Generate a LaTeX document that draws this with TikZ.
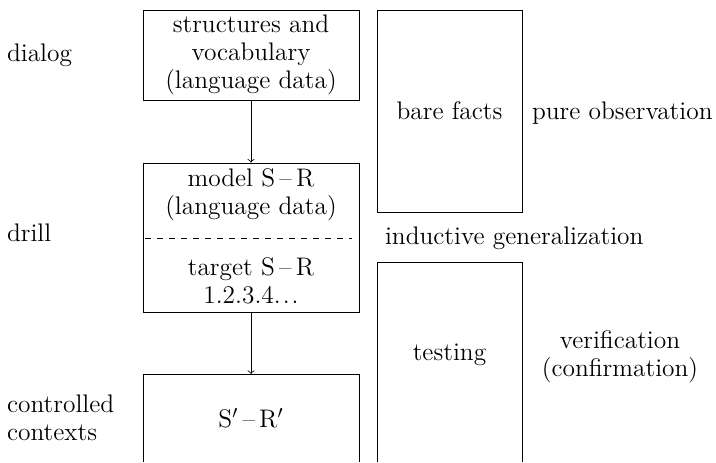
\documentclass[tikz,border=0pt]{standalone}
\usetikzlibrary{positioning}
\begin{document}
\begin{tikzpicture}[x=0.5pt, y=-0.5pt, every node/.style={font=\fontsize{12.7}{13.9}\selectfont}]
	\tikzset{
		box/.style={draw, thin, inner sep=0pt, align=center},
		lbl/.style={right, align=left},
	}
	\useasboundingbox (0,0) rectangle (716,462);
	
	% --- 左列：方法步骤 ---
	\node[box, minimum width=108pt, minimum height=45pt] (s1) at (251,55) {structures and\\vocabulary\\(language data)};
	\node[box, minimum width=108pt, minimum height=74.5pt] (s2) at (251,237.5) {};
	\node[align=center] (m) at (251,195) {model S\,--\,R\\(language data)};
	\node[align=center] (t) at (251,281) {target S\,--\,R\\1.2.3.4.\kern1pt.\kern1pt.};
	\draw[dashed, thin] (145,238) -- (352,238);
	
	% 下框 (底部开口)
	\coordinate (c3) at (251,374);
	\draw[thin] (143,462) |- (359,374) -- (359,462);
	\node (sr) at (251,418) {S$'$\,--\,R$'$};
	
	% 箭头
	\draw[->] (s1.south) -- (s2.north);
	\draw[->] (s2.south) -- (c3);
	
	% 左侧标注
	\node[lbl] (dlg) at (0,55) {dialog};
	\node[lbl] (drl) at (0,233) {drill};
	\node[lbl] (ctx) at (0,418) {controlled\\contexts};
	
	% --- 右列：科学方法 ---
	\node[box, minimum width=72.5pt, minimum height=101pt] (bf) at (449.5,111) {bare facts};
	\draw[thin] (377,462) |- (522,262) -- (522,462);
	\node (tst) at (449.5,355) {testing};
	
	% 右侧标注
	\node[lbl] (obs) at (525,113) {pure observation};
	\node[lbl] (ind) at (378,238) {inductive generalization};
	\node[align=center] (ver) at (620,357) {verification\\(confirmation)};
\end{tikzpicture}
\end{document}
